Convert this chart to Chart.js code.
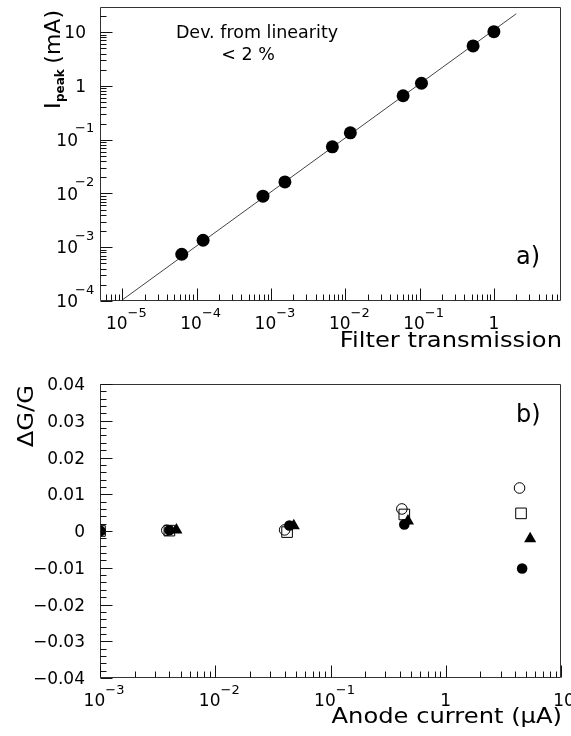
<!DOCTYPE html>
<html>
<head>
<meta charset="utf-8">
<title>Peak current linearity and gain shift</title>
<script src="https://cdn.jsdelivr.net/npm/chart.js@4.4.1/dist/chart.umd.min.js"></script>
<style>
  html, body { margin:0; padding:0; background:#fff; width:571px; height:736px; overflow:hidden; }
  canvas { position:absolute; left:0; }
  #topChart { top:0; }
  #bottomChart { top:360px; }
</style>
</head>
<body>
<canvas id="topChart" width="571" height="360"></canvas>
<canvas id="bottomChart" width="571" height="376"></canvas>
<script>
// ---------- panel a) : peak current vs filter transmission ----------
const filterTransmission = [6.3e-5, 1.22e-4, 7.8e-4, 1.54e-3, 6.7e-3, 1.17e-2, 0.060, 0.106, 0.525, 1.0];
const peakCurrent        = [7.4e-4, 1.35e-3, 8.9e-3, 0.0164, 0.0738, 0.134, 0.656, 1.12, 5.54, 10.2];
const fitTransmission    = [1.0e-5, 2.0];
const fitCurrent         = [1.05e-4, 22];
const topXTickValues = [1e-5, 1e-4, 1e-3, 1e-2, 1e-1, 1];
const topXTickLabels = ['10^\u22125', '10^\u22124', '10^\u22123', '10^\u22122', '10^\u22121', '1'];
const topYTickValues = [1e-4, 1e-3, 1e-2, 1e-1, 1, 10];
const topYTickLabels = ['10^\u22124', '10^\u22123', '10^\u22122', '10^\u22121', '1', '10'];

// ---------- panel b) : gain shift vs anode current ----------
const anodeCurrentOpenCircle = [1e-3, 3.8e-3, 0.040, 0.416, 4.37];
const gainShiftOpenCircle    = [0, 0.0002, 0.0003, 0.0060, 0.0117];
const anodeCurrentOpenSquare = [1e-3, 4.0e-3, 0.042, 0.437, 4.5];
const gainShiftOpenSquare    = [0, 0.0001, -0.0003, 0.0045, 0.0048];
const anodeCurrentTriangle   = [1e-3, 4.6e-3, 0.048, 0.47, 5.4];
const gainShiftTriangle      = [0, 0.0003, 0.0014, 0.0027, -0.0021];
const anodeCurrentDot        = [1e-3, 4.0e-3, 0.044, 0.437, 4.6];
const gainShiftDot           = [0, 0.0002, 0.0015, 0.0018, -0.0102];
const bottomXTickValues = [1e-3, 1e-2, 1e-1, 1, 10];
const bottomXTickLabels = ['10^\u22123', '10^\u22122', '10^\u22121', '1', '10'];
const bottomYTickValues = [-0.04, -0.03, -0.02, -0.01, 0, 0.01, 0.02, 0.03, 0.04];
const bottomYTickLabels = ['\u22120.04', '\u22120.03', '\u22120.02', '\u22120.01', '0', '0.01', '0.02', '0.03', '0.04'];

const FAM = "'DejaVu Sans', sans-serif";
const BASE_FONT = '17px ' + FAM;
const EXP_FONT = '13px ' + FAM;
const TITLE_FONT = '22px ' + FAM;

function pts(xs, ys) { return xs.map((x, i) => ({ x: x, y: ys[i] })); }

function logMinor(min, max) {
  const out = [];
  for (let e = Math.floor(Math.log10(min)) - 1; e <= Math.ceil(Math.log10(max)); e++) {
    for (let m = 2; m <= 9; m++) {
      const v = m * Math.pow(10, e);
      if (v > min * 1.0001 && v < max * 0.9999) out.push(v);
    }
  }
  return out;
}
function linMinor(min, max, step, majorStep) {
  const out = [];
  const n = Math.round((max - min) / step);
  const r = Math.round(majorStep / step);
  for (let k = 0; k <= n; k++) if (k % r !== 0) out.push(min + k * step);
  return out;
}

function txt(ctx, s, x, y, font, align, sx) {
  ctx.save();
  ctx.font = font; ctx.textAlign = align || 'left'; ctx.textBaseline = 'alphabetic';
  ctx.fillStyle = '#000';
  ctx.translate(x, y); if (sx) ctx.scale(sx, 1);
  ctx.fillText(s, 0, 0);
  ctx.restore();
}
function splitLabel(s) { const i = s.indexOf('^'); return i < 0 ? [s, ''] : [s.slice(0, i), s.slice(i + 1)]; }
function drawXLabel(ctx, s, px, cy) {
  const p = splitLabel(s);
  if (!p[1]) { txt(ctx, p[0], px + (p[0].length > 1 ? 3 : 0), cy + 6.2, BASE_FONT, 'center'); return; }
  ctx.font = BASE_FONT; const wb = ctx.measureText(p[0]).width;
  ctx.font = EXP_FONT; const we = ctx.measureText(p[1]).width;
  const left = px + 4 - (wb + we) / 2;
  txt(ctx, p[0], left, cy + 6.2, BASE_FONT, 'left');
  txt(ctx, p[1], left + wb, cy - 10 + 4.7, EXP_FONT, 'left');
}
function drawYLabel(ctx, s, py, plainRight) {
  const p = splitLabel(s);
  if (!p[1]) { txt(ctx, p[0], plainRight, py + 6.2, BASE_FONT, 'right'); return; }
  txt(ctx, p[0], 78, py + 6.2, BASE_FONT, 'right');
  txt(ctx, p[1], 75, py - 12 + 4.7, EXP_FONT, 'left');
}

function makeAxesPlugin(cfg) {
  return {
    id: 'rootAxes',
    afterDatasetsDraw(chart) {
      const ctx = chart.ctx, a = chart.chartArea, xs = chart.scales.x, ys = chart.scales.y;
      const L = Math.round(a.left) + 0.5, R = Math.round(a.right) - 0.5;
      const T = Math.round(a.top) + 0.5, B = Math.round(a.bottom) - 0.5;
      ctx.save();
      ctx.lineWidth = 1;
      ctx.strokeStyle = '#333';
      ctx.beginPath();
      ctx.moveTo(L, T); ctx.lineTo(R, T); ctx.lineTo(R, B); ctx.lineTo(L, B); ctx.closePath();
      ctx.stroke();
      ctx.strokeStyle = '#111';
      ctx.beginPath();
      const tick = (v, len, axis) => {
        if (axis === 'x') { const p = Math.round(xs.getPixelForValue(v)) + 0.5; ctx.moveTo(p, B); ctx.lineTo(p, B - len); }
        else { const p = Math.round(ys.getPixelForValue(v)) + 0.5; ctx.moveTo(L, p); ctx.lineTo(L + len, p); }
      };
      cfg.xMajor.forEach(v => tick(v, 12, 'x'));
      cfg.xMinor.forEach(v => tick(v, 6, 'x'));
      cfg.yMajor.forEach(v => tick(v, 12, 'y'));
      cfg.yMinor.forEach(v => tick(v, 6, 'y'));
      ctx.stroke();
      cfg.xMajor.forEach((v, i) => drawXLabel(ctx, cfg.xLabels[i], xs.getPixelForValue(v), a.bottom + 21.5));
      cfg.yMajor.forEach((v, i) => drawYLabel(ctx, cfg.yLabels[i], ys.getPixelForValue(v), cfg.yPlainRight));
      cfg.extra(ctx, a);
      ctx.restore();
    }
  };
}

// ---------------- top chart ----------------
new Chart(document.getElementById('topChart'), {
  type: 'scatter',
  data: {
    datasets: [
      {
        label: 'I_peak',
        data: pts(filterTransmission, peakCurrent),
        pointStyle: 'circle', pointRadius: 6.5, pointBorderWidth: 0,
        backgroundColor: '#000', borderColor: '#000', showLine: false, clip: 0
      },
      {
        label: 'linear fit',
        data: pts(fitTransmission, fitCurrent),
        showLine: true, pointRadius: 0, borderColor: '#444', borderWidth: 1, fill: false, clip: 0
      }
    ]
  },
  options: {
    responsive: false, animation: false, devicePixelRatio: 1, events: [],
    layout: { padding: { left: 100, top: 6, right: 10, bottom: 59 } },
    plugins: { legend: { display: false }, tooltip: { enabled: false }, title: { display: false } },
    scales: {
      x: { type: 'logarithmic', min: 5e-6, max: 8, display: false },
      y: { type: 'logarithmic', min: 1e-4, max: 30, display: false }
    }
  },
  plugins: [makeAxesPlugin({
    xMajor: topXTickValues, xLabels: topXTickLabels, xMinor: logMinor(5e-6, 8),
    yMajor: topYTickValues, yLabels: topYTickLabels, yMinor: logMinor(1e-4, 30),
    yPlainRight: 86,
    extra(ctx, a) {
      txt(ctx, 'Dev. from linearity', 257, 37.5, '17.5px ' + FAM, 'center');
      txt(ctx, '< 2 %', 248, 60, '17.5px ' + FAM, 'center');
      txt(ctx, 'a)', 516, 263.5, '24px ' + FAM, 'left');
      txt(ctx, 'Filter transmission', 562, 347, TITLE_FONT, 'right', 1.1);
      ctx.save();
      const subFont = 'bold 12px ' + FAM;
      ctx.font = TITLE_FONT; const wI = ctx.measureText('I').width * 1.1;
      const wSp = ctx.measureText(' ').width * 0.8;
      const wMA = ctx.measureText('(mA)').width;
      ctx.font = subFont; const wP = ctx.measureText('peak').width;
      const total = wI + wP + wSp + wMA;
      ctx.translate(60, 10 + total);
      ctx.rotate(-Math.PI / 2);
      txt(ctx, 'I', 0, 0, TITLE_FONT, 'left', 1.1);
      txt(ctx, 'peak', wI, 4, subFont, 'left');
      txt(ctx, '(mA)', wI + wP + wSp, 0, TITLE_FONT, 'left');
      ctx.restore();
    }
  })]
});

// ---------------- bottom chart ----------------
new Chart(document.getElementById('bottomChart'), {
  type: 'scatter',
  data: {
    datasets: [
      {
        label: 'open circles', data: pts(anodeCurrentOpenCircle, gainShiftOpenCircle), order: 3,
        pointStyle: 'circle', pointRadius: 5.3, pointBorderWidth: 1,
        backgroundColor: 'rgba(0,0,0,0)', borderColor: '#000', showLine: false, clip: 0
      },
      {
        label: 'open squares', data: pts(anodeCurrentOpenSquare, gainShiftOpenSquare), order: 2,
        pointStyle: 'rect', pointRadius: 7.5, pointBorderWidth: 1,
        backgroundColor: 'rgba(0,0,0,0)', borderColor: '#000', showLine: false, clip: 0
      },
      {
        label: 'triangles', data: pts(anodeCurrentTriangle, gainShiftTriangle), order: 1,
        pointStyle: 'triangle', pointRadius: 7, pointBorderWidth: 0,
        backgroundColor: '#000', borderColor: '#000', showLine: false, clip: 0
      },
      {
        label: 'dots', data: pts(anodeCurrentDot, gainShiftDot), order: 0,
        pointStyle: 'circle', pointRadius: 5.3, pointBorderWidth: 0,
        backgroundColor: '#000', borderColor: '#000', showLine: false, clip: 0
      }
    ]
  },
  options: {
    responsive: false, animation: false, devicePixelRatio: 1, events: [],
    layout: { padding: { left: 100, top: 24, right: 10, bottom: 58 } },
    plugins: { legend: { display: false }, tooltip: { enabled: false }, title: { display: false } },
    scales: {
      x: { type: 'logarithmic', min: 1e-3, max: 10, display: false },
      y: { type: 'linear', min: -0.04, max: 0.04, display: false }
    }
  },
  plugins: [makeAxesPlugin({
    xMajor: bottomXTickValues, xLabels: bottomXTickLabels, xMinor: logMinor(1e-3, 10),
    yMajor: bottomYTickValues, yLabels: bottomYTickLabels, yMinor: linMinor(-0.04, 0.04, 0.002, 0.01),
    yPlainRight: 85,
    extra(ctx, a) {
      txt(ctx, 'b)', 516, 61.5, '24px ' + FAM, 'left');
      txt(ctx, 'Anode current (\u03bcA)', 562, 363, TITLE_FONT, 'right', 1.1);
      ctx.save();
      ctx.translate(33, 25);
      ctx.rotate(-Math.PI / 2);
      txt(ctx, '\u0394G/G', 0, 0, TITLE_FONT, 'right', 1.1);
      ctx.restore();
    }
  })]
});
</script>
</body>
</html>
